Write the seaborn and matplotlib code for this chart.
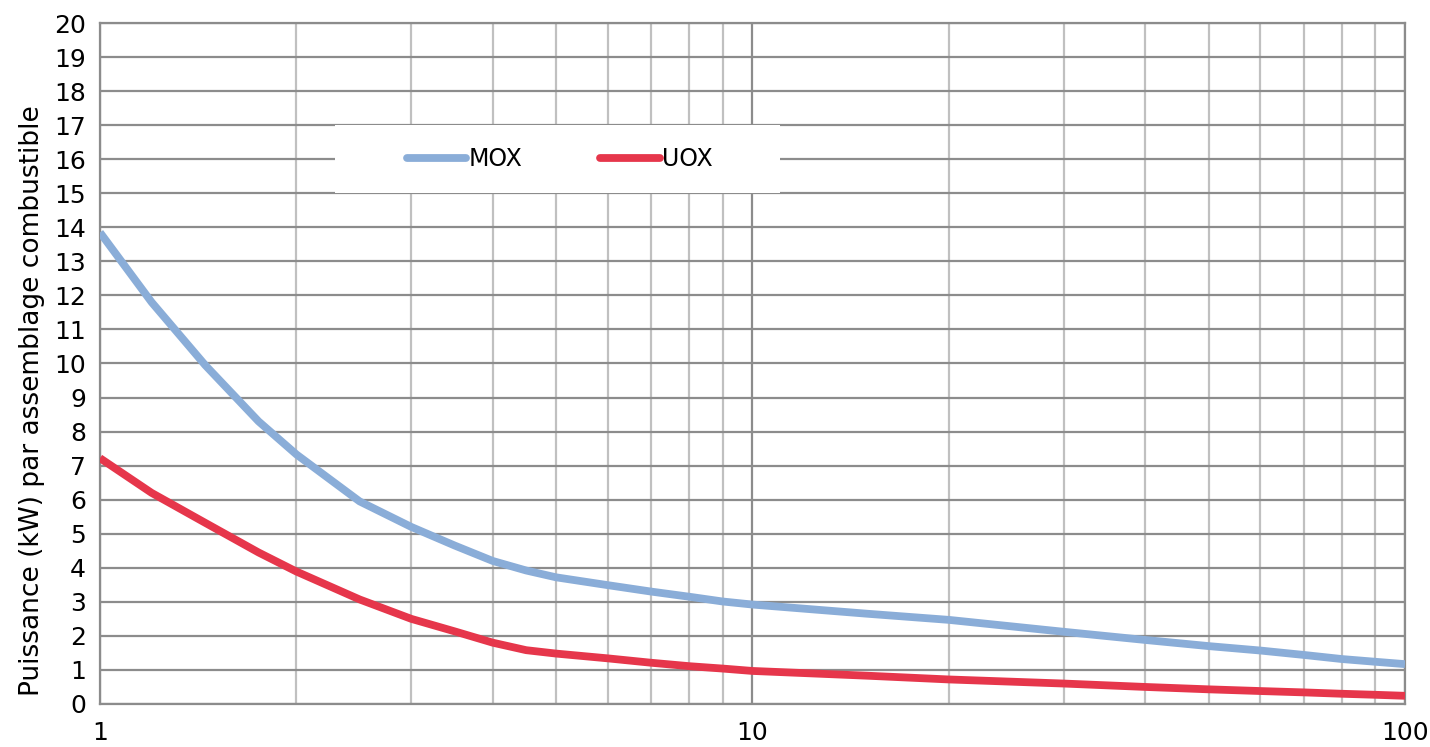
import matplotlib
matplotlib.use("Agg")
import matplotlib.pyplot as plt
import seaborn as sns
import pandas as pd
import numpy as np
from matplotlib.ticker import LogLocator, FixedLocator, NullFormatter
from matplotlib.patches import Rectangle
from matplotlib.lines import Line2D

# Data
years = [1, 1.2, 1.45, 1.75, 2, 2.5, 3, 3.5, 4, 4.5, 5, 6, 7, 8, 9, 10,
         15, 20, 30, 40, 50, 60, 70, 80, 90, 100]
mox = [13.85, 11.8, 9.95, 8.3, 7.33, 5.95, 5.2, 4.65, 4.2, 3.92, 3.72, 3.49, 3.3, 3.15, 3.01, 2.92,
       2.65, 2.47, 2.12, 1.88, 1.7, 1.57, 1.44, 1.32, 1.24, 1.17]
uox = [7.22, 6.2, 5.32, 4.45, 3.89, 3.07, 2.5, 2.13, 1.8, 1.58, 1.48, 1.34, 1.21, 1.11, 1.04, 0.97,
       0.83, 0.72, 0.6, 0.5, 0.43, 0.38, 0.34, 0.3, 0.27, 0.24]
series_names = ["MOX", "UOX"]
colors = ["#8AADD8", "#E6364B"]
y_ticks = list(range(0, 21))
x_labels = ["1", "10", "100"]
ylabel = "Puissance (kW) par assemblage combustible"

df = pd.DataFrame({
    "x": years * 2,
    "y": mox + uox,
    "s": ["MOX"] * len(years) + ["UOX"] * len(years),
})

sns.set_style("white")
plt.rcParams['font.family'] = ['DejaVu Sans']
plt.rcParams['text.color'] = 'black'
plt.rcParams['xtick.labelcolor'] = 'black'
plt.rcParams['ytick.labelcolor'] = 'black'
plt.rcParams['axes.labelcolor'] = 'black'

fig = plt.figure(figsize=(14.3, 7.47), dpi=100)
ax = fig.add_axes([0.0699, 0.0576, 0.9126, 0.9116])

sns.lineplot(data=df, x="x", y="y", hue="s", palette=dict(zip(series_names, colors)),
             linewidth=5.6, ax=ax, legend=False, zorder=5, solid_capstyle="butt",
             solid_joinstyle="round")

ax.set_xscale("log")
ax.set_xlim(1, 100)
ax.set_ylim(0, 20)
ax.set_yticks(y_ticks)
ax.set_yticklabels([str(t) for t in y_ticks])
ax.xaxis.set_major_locator(FixedLocator([1, 10, 100]))
ax.set_xticklabels(x_labels)
ax.xaxis.set_minor_locator(LogLocator(base=10, subs=np.arange(2, 10)))
ax.xaxis.set_minor_formatter(NullFormatter())

ax.grid(True, which="major", axis="y", color="#8c8c8c", linewidth=1.6)
ax.grid(True, which="major", axis="x", color="#8c8c8c", linewidth=1.6)
ax.grid(True, which="minor", axis="x", color="#c0c0c0", linewidth=1.6)
ax.set_axisbelow(True)

for sp in ax.spines.values():
    sp.set_color("#8c8c8c")
    sp.set_linewidth(1.6)

ax.tick_params(axis="both", which="both", direction="out", color="#8c8c8c", width=1.6)
ax.tick_params(axis="y", which="major", length=7, labelsize=18, pad=3, labelcolor="black")
ax.tick_params(axis="x", which="major", length=7, labelsize=18, pad=5, labelcolor="black")
ax.tick_params(axis="x", which="minor", length=7, color="#8c8c8c")

ax.set_xlabel("")
ax.set_ylabel(ylabel, fontsize=19, color="black")
ax.yaxis.set_label_coords(-0.042, 0.446)

# legend box (white) covering gridlines
rect = Rectangle((0.180, 0.750), 0.341, 0.100, transform=ax.transAxes,
                 facecolor="white", edgecolor="none", zorder=3)
ax.add_patch(rect)
handles = [Line2D([0], [0], color=c, linewidth=5.6, solid_capstyle="round") for c in colors]
leg = ax.legend(handles, series_names, loc="center", bbox_to_anchor=(0.3525, 0.800), ncol=2,
                frameon=False, fontsize=17, handlelength=2.5, handletextpad=0.1, columnspacing=3.3)
leg.set_zorder(6)

fig.savefig("out.png", dpi=100)
